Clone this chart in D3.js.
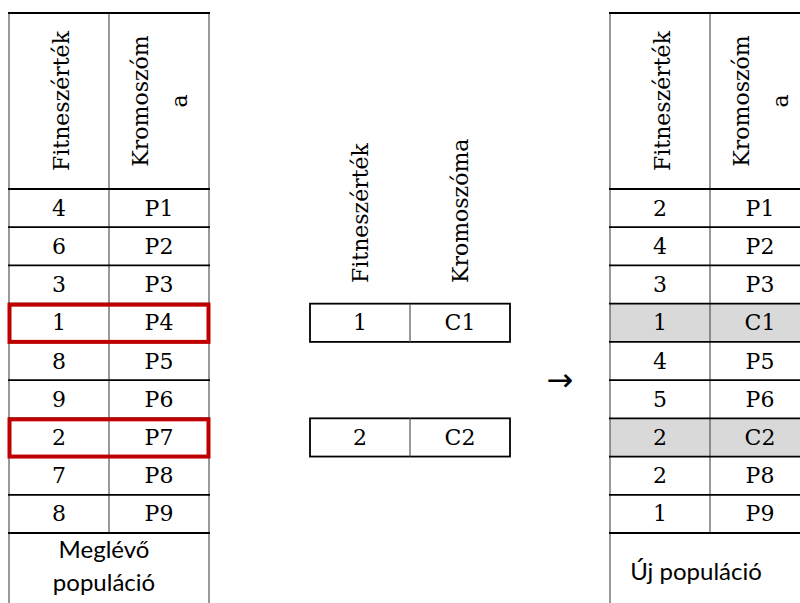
<!DOCTYPE html>
<html><head><meta charset="utf-8">
<script src="https://cdn.jsdelivr.net/npm/d3@7"></script>
<style>html,body{margin:0;padding:0;background:#fff;}svg{display:block;}</style>
</head><body>
<script>
// ---- data ----
const headerLabels = ["Fitneszérték", "Kromoszóma"];
const headerLinesSide = [["Fitneszérték"], ["Kromoszóm", "a"]];
const fitnessOld = [4, 6, 3, 1, 8, 9, 2, 7, 8];
const chromOld = ["P1", "P2", "P3", "P4", "P5", "P6", "P7", "P8", "P9"];
const selectedIdx = [3, 6];
const fitnessChild = [1, 2];
const chromChild = ["C1", "C2"];
const fitnessNew = [2, 4, 3, 1, 4, 5, 2, 2, 1];
const chromNew = ["P1", "P2", "P3", "C1", "P5", "P6", "C2", "P8", "P9"];
const replacedIdx = [3, 6];
const footerOld = ["Meglévő", "populáció"];
const footerNew = ["Új populáció"];
const arrowLabel = "→";

const W = 800, H = 603;
const serif = "'DejaVu Serif', serif";
const sans = "Lato, 'Open Sans', sans-serif";
const FS = 22;

const svg = d3.select("body").append("svg").attr("width", W).attr("height", H);

const y = d3.scaleBand().domain(d3.range(fitnessOld.length)).range([189, 533]);
const colW = 100;
const headTop = 13, headBot = 189, footBot = 640;

function sideTable(x0, fit, chrom, highlight, footer, footerX, footerBase) {
  const g = svg.append("g");
  const x = d3.scaleBand().domain([0, 1]).range([x0, x0 + 2 * colW]);
  g.selectAll("rect.hl").data(highlight).join("rect")
    .attr("x", x0).attr("y", d => y(d)).attr("width", 2 * colW).attr("height", y.bandwidth())
    .attr("fill", "#d9d9d9");
  [x0, x0 + colW, x0 + 2 * colW].forEach((vx, i) => {
    g.append("line").attr("x1", vx).attr("x2", vx).attr("y1", headTop).attr("y2", i === 1 ? y.range()[1] : footBot)
      .attr("stroke", "#555").attr("stroke-width", 1.2);
  });
  const hy = [headTop, headBot].concat(d3.range(1, fit.length + 1).map(i => y(i - 1) + y.bandwidth()));
  g.selectAll("line.h").data(hy).join("line")
    .attr("x1", x0 - 1).attr("x2", x0 + 2 * colW + 1).attr("y1", d => d).attr("y2", d => d)
    .attr("stroke", "#000").attr("stroke-width", 1.8);
  const hb = [[60], [139, 178]];
  headerLinesSide.forEach((lines, c) => {
    lines.forEach((t, li) => {
      g.append("text").attr("transform", `translate(${x0 + hb[c][li]},101) rotate(-90)`)
        .attr("text-anchor", "middle").attr("font-family", serif).attr("font-size", FS).attr("fill", "#000").text(t);
    });
  });
  const rows = fit.map((f, i) => ({i, f, c: chrom[i]}));
  g.selectAll("text.f").data(rows).join("text")
    .attr("x", x(0) + x.bandwidth() / 2).attr("y", d => y(d.i) + y.bandwidth() / 2 + 7.5)
    .attr("text-anchor", "middle").attr("font-family", serif).attr("font-size", FS).text(d => d.f);
  g.selectAll("text.c").data(rows).join("text")
    .attr("x", x(1) + x.bandwidth() / 2).attr("y", d => y(d.i) + y.bandwidth() / 2 + 7.5)
    .attr("text-anchor", "middle").attr("font-family", serif).attr("font-size", FS).text(d => d.c);
  footer.forEach((t, li) => {
    g.append("text").attr("x", footerX).attr("y", footerBase[li])
      .attr("text-anchor", "middle").attr("font-family", sans).attr("font-size", 24).text(t);
  });
  return g;
}

const gl = sideTable(9, fitnessOld, chromOld, [], footerOld, 104, [558, 591]);
gl.selectAll("rect.sel").data(selectedIdx).join("rect")
  .attr("x", 9.5).attr("y", d => y(d) + 1).attr("width", 199).attr("height", y.bandwidth() - 1)
  .attr("fill", "none").attr("stroke", "#c00000").attr("stroke-width", 4);

sideTable(610, fitnessNew, chromNew, replacedIdx, footerNew, 696, [580]);

const gm = svg.append("g");
const xm = d3.scaleBand().domain([0, 1]).range([310, 510]);
headerLabels.forEach((t, c) => {
  gm.append("text").attr("transform", `translate(${xm(c) + 58},283) rotate(-90)`)
    .attr("text-anchor", "start").attr("font-family", serif).attr("font-size", FS).text(t);
});
const kids = fitnessChild.map((f, k) => ({k, f, c: chromChild[k], r: selectedIdx[k]}));
gm.selectAll("rect.kid").data(kids).join("rect")
  .attr("x", xm(0)).attr("y", d => y(d.r)).attr("width", 2 * xm.bandwidth()).attr("height", y.bandwidth())
  .attr("fill", "none").attr("stroke", "#000").attr("stroke-width", 1.8);
gm.selectAll("line.kid").data(kids).join("line")
  .attr("x1", xm(1)).attr("x2", xm(1)).attr("y1", d => y(d.r)).attr("y2", d => y(d.r) + y.bandwidth())
  .attr("stroke", "#555").attr("stroke-width", 1.2);
gm.selectAll("text.kf").data(kids).join("text")
  .attr("x", xm(0) + xm.bandwidth() / 2).attr("y", d => y(d.r) + y.bandwidth() / 2 + 7.5)
  .attr("text-anchor", "middle").attr("font-family", serif).attr("font-size", FS).text(d => d.f);
gm.selectAll("text.kc").data(kids).join("text")
  .attr("x", xm(1) + xm.bandwidth() / 2).attr("y", d => y(d.r) + y.bandwidth() / 2 + 7.5)
  .attr("text-anchor", "middle").attr("font-family", serif).attr("font-size", FS).text(d => d.c);

svg.append("text").attr("x", 560).attr("y", 391).attr("text-anchor", "middle")
  .attr("font-family", "'Noto Sans', 'DejaVu Sans', sans-serif").attr("font-size", 32).text(arrowLabel);
</script>
</body></html>
